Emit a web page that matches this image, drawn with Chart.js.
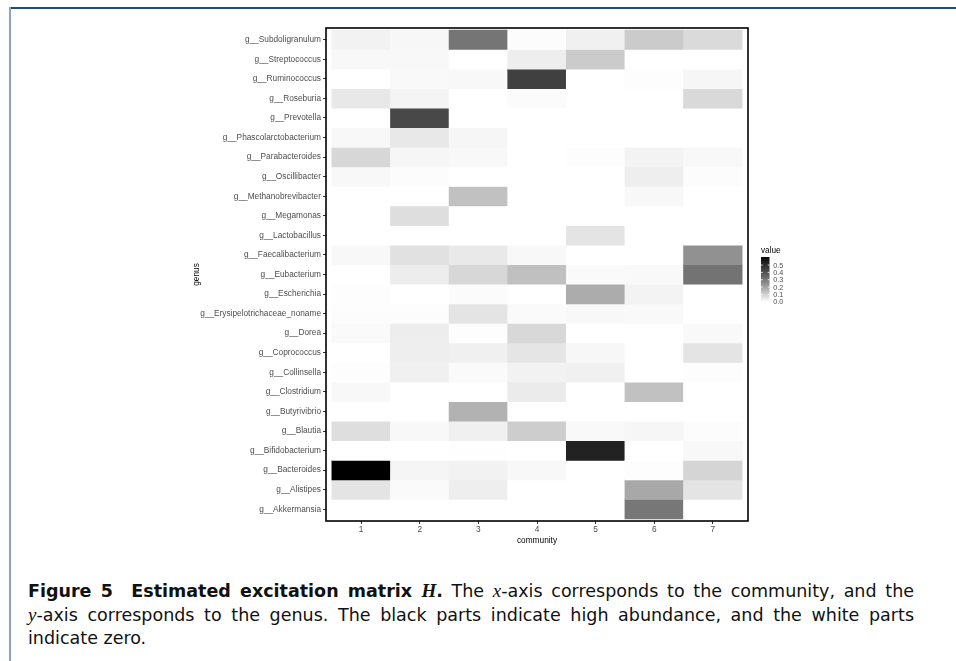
<!DOCTYPE html>
<html>
<head>
<meta charset="utf-8">
<script src="https://cdn.jsdelivr.net/npm/chart.js@4.4.1/dist/chart.umd.min.js"></script>
<style>
  html, body { margin: 0; padding: 0; background: #fff; }
  body { width: 956px; height: 661px; position: relative; overflow: hidden; }
  #frameTop { position: absolute; left: 9px; top: 7px; width: 947px; height: 2px; background: #1f4a7c; }
  #frameLeft { position: absolute; left: 9px; top: 7px; width: 2px; height: 654px; background: #8aa2c6; }
  #chart { position: absolute; left: 0; top: 0; }
  #caption { position: absolute; left: 28px; top: 579px; width: 886px; font-family: "DejaVu Sans", sans-serif; font-size: 17.5px; line-height: 23px; color: #111; white-space: nowrap; }
  #caption .j { text-align: justify; text-align-last: justify; }
  #caption b { font-weight: bold; }
  .m { font-family: "Liberation Serif", serif; font-style: italic; font-size: 19px; }
</style>
</head>
<body>
<div id="frameTop"></div>
<div id="frameLeft"></div>
<canvas id="chart" width="956" height="560"></canvas>
<div id="caption">
  <div class="j"><b>Figure 5&nbsp; Estimated excitation matrix <span class="m" style="font-weight:bold">H</span>.</b> The <span class="m">x</span>-axis corresponds to the community, and the</div>
  <div class="j"><span class="m">y</span>-axis corresponds to the genus. The black parts indicate high abundance, and the white parts</div>
  <div>indicate zero.</div>
</div>
<script>
// genus labels, bottom to top (alphabetical, as on the y axis)
const genera = ['g__Akkermansia', 'g__Alistipes', 'g__Bacteroides', 'g__Bifidobacterium', 'g__Blautia',
  'g__Butyrivibrio', 'g__Clostridium', 'g__Collinsella', 'g__Coprococcus', 'g__Dorea',
  'g__Erysipelotrichaceae_noname', 'g__Escherichia', 'g__Eubacterium', 'g__Faecalibacterium', 'g__Lactobacillus',
  'g__Megamonas', 'g__Methanobrevibacter', 'g__Oscillibacter', 'g__Parabacteroides', 'g__Phascolarctobacterium',
  'g__Prevotella', 'g__Roseburia', 'g__Ruminococcus', 'g__Streptococcus', 'g__Subdoligranulum'];

const communities = [1, 2, 3, 4, 5, 6, 7];

// estimated H values per community, same order as genera
const comm1 = [0, 0.057, 0.61, 0, 0.070, 0, 0.015, 0.004, 0, 0.010, 0.006, 0.004, 0, 0.015, 0, 0, 0, 0.015, 0.086, 0.015, 0, 0.049, 0, 0.015, 0.028];
const comm2 = [0, 0.010, 0.021, 0, 0.015, 0, 0, 0.032, 0.036, 0.038, 0.006, 0, 0.038, 0.064, 0, 0.070, 0, 0.006, 0.019, 0.049, 0.423, 0.023, 0.013, 0.015, 0.017];
const comm3 = [0, 0.036, 0.028, 0.002, 0.032, 0.167, 0, 0.010, 0.032, 0.004, 0.057, 0.008, 0.086, 0.047, 0, 0, 0.134, 0, 0.015, 0.019, 0, 0, 0.015, 0, 0.310];
const comm4 = [0, 0, 0.015, 0, 0.107, 0, 0.042, 0.028, 0.055, 0.083, 0.010, 0, 0.136, 0.015, 0, 0, 0, 0, 0, 0, 0, 0.008, 0.445, 0.036, 0.006];
const comm5 = [0, 0, 0, 0.529, 0.013, 0, 0, 0.032, 0.017, 0, 0.015, 0.181, 0.010, 0, 0.057, 0, 0, 0, 0.004, 0, 0, 0, 0, 0.112, 0.032];
const comm6 = [0.306, 0.190, 0.004, 0, 0.019, 0, 0.134, 0, 0, 0, 0.013, 0.025, 0.013, 0, 0, 0, 0.015, 0.036, 0.025, 0, 0, 0, 0.004, 0, 0.112];
const comm7 = [0, 0.057, 0.090, 0.015, 0.006, 0, 0, 0.004, 0.057, 0.013, 0, 0, 0.314, 0.243, 0, 0, 0, 0.006, 0.015, 0, 0, 0.081, 0.019, 0, 0.079];

const legendTicks = [0.0, 0.1, 0.2, 0.3, 0.4, 0.5];

const matrix = [comm1, comm2, comm3, comm4, comm5, comm6, comm7];
const vmax = Math.max(...matrix.flat());

// white -> black, interpolated on Lab lightness like ggplot's gradient
function shade(v) {
  const L = 100 * (1 - Math.min(v, vmax) / vmax);
  const fy = (L + 16) / 116;
  const Y = L > 8 ? fy * fy * fy : L / 903.3;
  const c = Y <= 0.0031308 ? 12.92 * Y : 1.055 * Math.pow(Y, 1 / 2.4) - 0.055;
  const g = Math.round(255 * Math.max(0, Math.min(1, c)));
  return `rgb(${g},${g},${g})`;
}

const cells = [];
const colors = [];
communities.forEach((c, ci) => {
  genera.forEach((g, gi) => {
    cells.push({ x: c, y: [gi - 0.5, gi + 0.5] });
    colors.push(shade(matrix[ci][gi]));
  });
});

const labelFont = { family: '"Liberation Sans", Arial, sans-serif', size: 8.3 };

const legendPlugin = {
  id: 'valueLegend',
  afterDraw(chart) {
    const ctx = chart.ctx;
    const x0 = 761, w = 8.5, yBottom = 301.7, h = 44.7;
    ctx.save();
    const grad = ctx.createLinearGradient(0, yBottom, 0, yBottom - h);
    for (let i = 0; i <= 20; i++) grad.addColorStop(i / 20, shade(vmax * i / 20));
    ctx.fillStyle = grad;
    ctx.fillRect(x0, yBottom - h, w, h);
    ctx.fillStyle = '#000';
    ctx.font = '8.2px "Liberation Sans", Arial, sans-serif';
    ctx.textBaseline = 'middle';
    ctx.fillText('value', 761, 251);
    ctx.font = '7.2px "Liberation Sans", Arial, sans-serif';
    ctx.fillStyle = '#4d4d4d';
    legendTicks.forEach(t => {
      const y = yBottom - (t / vmax) * h;
      ctx.strokeStyle = '#fff';
      ctx.lineWidth = 0.8;
      ctx.beginPath();
      ctx.moveTo(x0, y); ctx.lineTo(x0 + 1.8, y);
      ctx.moveTo(x0 + w - 1.8, y); ctx.lineTo(x0 + w, y);
      ctx.stroke();
      ctx.fillText(t.toFixed(1), 773.3, y + 0.5);
    });
    // panel border
    const a = chart.chartArea;
    ctx.strokeStyle = '#000';
    ctx.lineWidth = 1.6;
    ctx.strokeRect(a.left, a.top, a.right - a.left, a.bottom - a.top);
    ctx.restore();
  }
};

new Chart(document.getElementById('chart'), {
  type: 'bar',
  data: {
    datasets: [{
      data: cells,
      backgroundColor: colors,
      borderWidth: 0,
      barPercentage: 1,
      categoryPercentage: 1
    }]
  },
  options: {
    responsive: false,
    devicePixelRatio: 1,
    animation: false,
    layout: { padding: { left: 188, top: 28, right: 208, bottom: 12 } },
    plugins: { legend: { display: false }, tooltip: { enabled: false } },
    scales: {
      x: {
        type: 'linear',
        min: communities[0] - 0.6,
        max: communities[communities.length - 1] + 0.6,
        offset: false,
        afterBuildTicks: s => { s.ticks = communities.map(v => ({ value: v })); },
        afterFit: s => { s.height = 27; },
        grid: { drawOnChartArea: false, offset: false, tickLength: 3, tickColor: '#333', tickWidth: 1 },
        border: { display: false },
        ticks: { color: '#4d4d4d', font: labelFont, padding: 1, maxRotation: 0 },
        title: { display: true, text: 'community', color: '#000', font: labelFont, padding: { top: 0, bottom: 2 } }
      },
      y: {
        type: 'linear',
        min: -0.6,
        max: genera.length - 0.4,
        afterBuildTicks: s => { s.ticks = genera.map((g, i) => ({ value: i })); },
        afterFit: s => { s.width = 138; },
        grid: { drawOnChartArea: false, tickLength: 3, tickColor: '#333', tickWidth: 1 },
        border: { display: false },
        ticks: { color: '#4d4d4d', font: labelFont, padding: 2, autoSkip: false, callback: v => genera[v] },
        title: { display: true, text: 'genus', color: '#000', font: labelFont, padding: { top: 4, bottom: 0 } }
      }
    }
  },
  plugins: [legendPlugin]
});
</script>
</body>
</html>
